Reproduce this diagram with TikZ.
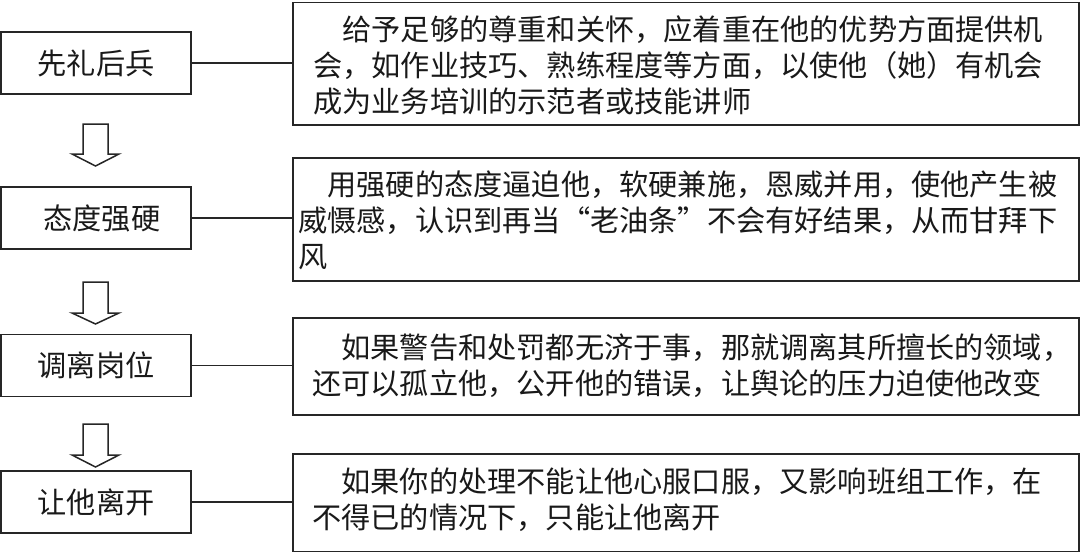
\documentclass[tikz,border=0pt]{standalone}
\usepackage{fontspec}
\newfontfamily\cjk[CharacterWidth=Full]{Noto Sans CJK SC}
\newcommand\flowarrow[3]{\draw[flow] (83,#1) -- (108,#1) -- (108,#2) -- (119,#2) -- (95.5,#3) -- (72,#2) -- (83,#2) -- cycle;}
\begin{document}
\begin{tikzpicture}[x=1pt,y=-1pt,
  box/.style={draw=black!85, line width=1.6pt, inner sep=0pt},
  lab/.style={font=\cjk\fontsize{29.2}{36}\selectfont, text=black!90},
  body/.style={font=\cjk\fontsize{29.2}{36}\selectfont, align=left, inner sep=0pt, anchor=west, text=black!90},
  link/.style={draw=black!85, line width=1.3pt},
  flow/.style={draw=black!85, line width=1.5pt, fill=white, line join=miter}]
\useasboundingbox (0,0) rectangle (1080,552);
% left boxes
\node[box, lab, minimum width=190pt, minimum height=62pt] (l1) at (96,63) {先礼后兵};
\node[box, lab, minimum width=190pt, minimum height=62pt] (l2) at (96,218) {\hspace{12pt}态度强硬};
\node[box, lab, minimum width=190pt, minimum height=62pt] (l3) at (96,365.5) {调离岗位};
\node[box, lab, minimum width=190pt, minimum height=62pt] (l4) at (96,502) {让他离开};
% right boxes
\node[box, minimum width=786pt, minimum height=122.5pt, anchor=north west] (r1) at (292,1.5) {};
\node[box, minimum width=786pt, minimum height=123pt, anchor=north west] (r2) at (292,157) {};
\node[box, minimum width=786pt, minimum height=97pt, anchor=north west] (r3) at (292,317) {};
\node[box, minimum width=786pt, minimum height=97.5pt, anchor=north west] (r4) at (292,453) {};
% texts
\node[body] (t1) at (313,65) {\hspace*{29.2pt}给予足够的尊重和关怀，应着重在他的优势方面提供机\\会，如作业技巧、熟练程度等方面，以使他（她）有机会\\成为业务培训的示范者或技能讲师};
\node[body] (t2) at (298,220) {\hspace*{29.2pt}用强硬的态度逼迫他，软硬兼施，恩威并用，使他产生被\\威慑感，认识到再当“老油条”不会有好结果，从而甘拜下\\风};
\node[body] (t3) at (312,366) {\hspace*{29.2pt}如果警告和处罚都无济于事，那就调离其所擅长的领域，\\还可以孤立他，公开他的错误，让舆论的压力迫使他改变};
\node[body] (t4) at (312,500) {\hspace*{29.2pt}如果你的处理不能让他心服口服，又影响班组工作，在\\不得已的情况下，只能让他离开};
% connectors
\draw[link] (l1.east) -- (l1.east -| r1.west);
\draw[link] (l2.east) -- (l2.east -| r2.west);
\draw[link] (l3.east) -- (l3.east -| r3.west);
\draw[link] (l4.east) -- (l4.east -| r4.west);
% flow arrows
\flowarrow{124}{154}{166}
\flowarrow{282}{313}{324}
\flowarrow{424}{455}{467}
\end{tikzpicture}
\end{document}
